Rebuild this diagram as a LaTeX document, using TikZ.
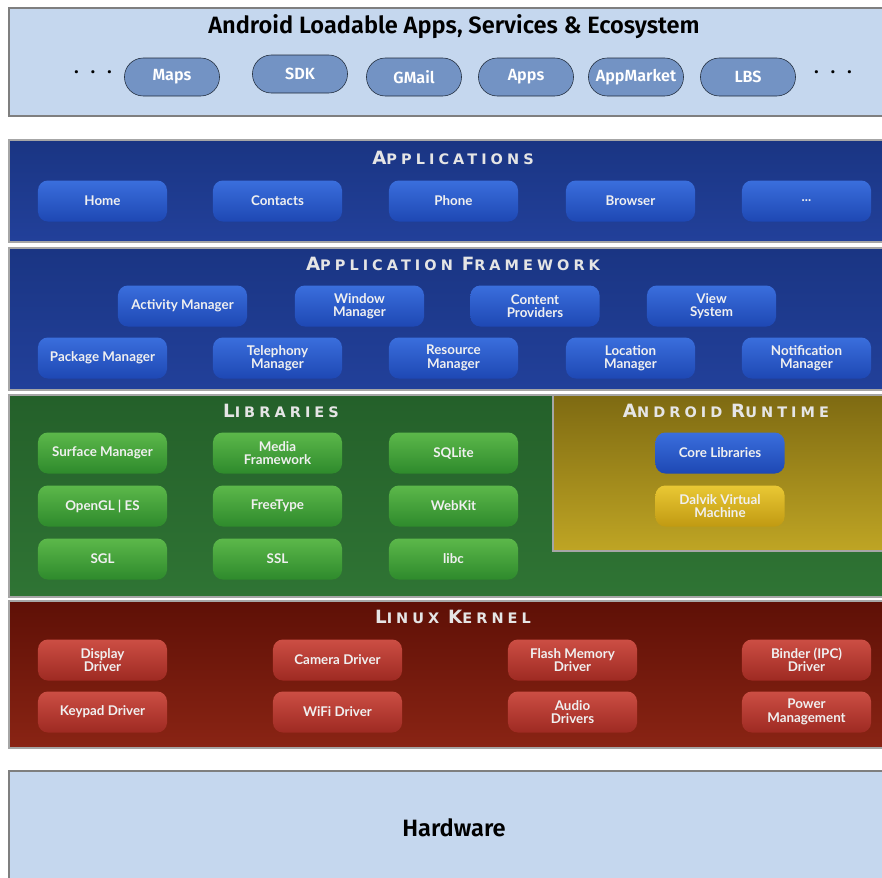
\documentclass[tikz,border=0pt]{standalone}
\usepackage{fontspec}
\setmainfont{Open Sans}
\newfontfamily\semifont{Fira Sans}[UprightFont={* SemiBold}]
\newfontfamily\btnfont{Lato}
\newfontfamily\capfont[LetterSpace=28]{DejaVu Sans}

\definecolor{ecofill}{HTML}{C5D7EE}
\definecolor{ecoline}{HTML}{7F7F7F}
\definecolor{pillfill}{HTML}{7393C4}
\definecolor{pillline}{HTML}{1F2A3A}
\definecolor{appdark}{HTML}{1A3583}
\definecolor{appmid}{HTML}{22409A}
\definecolor{btnbluetop}{HTML}{3A6EDC}
\definecolor{btnbluebot}{HTML}{1E48B4}
\definecolor{libdark}{HTML}{24602A}
\definecolor{libmid}{HTML}{2F7434}
\definecolor{btngreentop}{HTML}{5CB84A}
\definecolor{btngreenbot}{HTML}{2E8A2C}
\definecolor{rtdark}{HTML}{7E6A12}
\definecolor{rtlight}{HTML}{BFA524}
\definecolor{btnyellowtop}{HTML}{EAC834}
\definecolor{btnyellowbot}{HTML}{C09A12}
\definecolor{krndark}{HTML}{5E1006}
\definecolor{krnmid}{HTML}{8A2414}
\definecolor{btnredtop}{HTML}{CC4E44}
\definecolor{btnredbot}{HTML}{9E2A22}

\newcommand{\layertitle}[2]{{\fontsize{13}{13}\selectfont #1}{\fontsize{10.3}{11}\selectfont #2}}

\tikzset{
  panel/.style={draw=gray!70, line width=1.5pt},
  ecobox/.style={fill=ecofill, draw=ecoline, line width=1.5pt},
  pill/.style={draw=pillline, fill=pillfill, rounded corners=0.47cm, minimum width=2.375cm,
    minimum height=0.95cm, text=white, font=\semifont\fontsize{11.5}{12}\selectfont},
  btn/.style={rounded corners=7pt, minimum width=3.225cm, minimum height=1.025cm, text=white!94!black,
    align=center, inner sep=1pt, font=\btnfont\bfseries\fontsize{9.5}{9.5}\selectfont},
  bluebtn/.style={btn, top color=btnbluetop, bottom color=btnbluebot},
  greenbtn/.style={btn, top color=btngreentop, bottom color=btngreenbot},
  yellowbtn/.style={btn, top color=btnyellowtop, bottom color=btnyellowbot},
  redbtn/.style={btn, top color=btnredtop, bottom color=btnredbot},
  layer/.style={text=white!90!black, font=\capfont\bfseries},
  dots/.style={font=\bfseries\fontsize{13}{14}\selectfont},
  bigtext/.style={font=\semifont\fontsize{16.8}{17}\selectfont}
}

\begin{document}
\begin{tikzpicture}[x=0.025cm, y=-0.025cm]
    \clip (0,0) rectangle (882,877);

    % ecosystem
    \draw [ecobox] (9,8) rectangle (895,116);
    \node [bigtext] (ecotitle) at (454,27) {Android Loadable Apps, Services \& Ecosystem};
    \node [dots] (dotsl) at (93,72) {.\hspace{8pt}.\hspace{8pt}.};
    \node [pill] (maps) at (172,77) {Maps};
    \node [pill] (sdk) at (300,74) {SDK};
    \node [pill] (gmail) at (414,77) {GMail};
    \node [pill] (apps) at (526,77) {Apps};
    \node [pill] (market) at (636,77) {AppMarket};
    \node [pill] (lbs) at (748,77) {LBS};
    \node [dots] (dotsr) at (833,72) {.\hspace{8pt}.\hspace{8pt}.};

    % applications
    \shade [panel, top color=appdark, bottom color=appmid] (9,140) rectangle (895,242);
    \node [layer] (apptitle) at (453,158) {\layertitle{A}{PPLICATIONS}};
    \node [bluebtn] (home) at (102.5,201) {Home};
    \node [bluebtn] (contacts) at (277.5,201) {Contacts};
    \node [bluebtn] (phone) at (453.5,201) {Phone};
    \node [bluebtn] (browser) at (630.5,201) {Browser};
    \node [bluebtn] (more) at (806.5,201) {...};

    % framework
    \shade [panel, top color=appdark, bottom color=appmid] (9,248) rectangle (895,390);
    \node [layer] (fwtitle) at (453,264) {\layertitle{A}{PPLICATION} \layertitle{F}{RAMEWORK}};
    \node [bluebtn] (activity) at (182.5,306) {Activity Manager};
    \node [bluebtn] (window) at (359.5,306) {Window\\Manager};
    \node [bluebtn] (content) at (535,306) {Content\\Providers};
    \node [bluebtn] (view) at (711.5,306) {View\\System};
    \node [bluebtn] (package) at (102.5,358) {Package Manager};
    \node [bluebtn] (telephony) at (277.5,358) {Telephony\\Manager};
    \node [bluebtn] (resource) at (453.5,358) {Resource\\Manager};
    \node [bluebtn] (location) at (630.5,358) {Location\\Manager};
    \node [bluebtn] (notify) at (806.5,358) {Notification\\Manager};

    % libraries
    \shade [panel, top color=libdark, bottom color=libmid] (9,395) rectangle (895,597);
    \node [layer] (libtitle) at (281,411) {\layertitle{L}{IBRARIES}};
    \node [greenbtn] (surface) at (102.5,453) {Surface Manager};
    \node [greenbtn] (media) at (277.5,453) {Media\\Framework};
    \node [greenbtn] (sqlite) at (453.5,453) {SQLite};
    \node [greenbtn] (opengl) at (102.5,506) {OpenGL | ES};
    \node [greenbtn] (freetype) at (277.5,506) {FreeType};
    \node [greenbtn] (webkit) at (453.5,506) {WebKit};
    \node [greenbtn] (sgl) at (102.5,559) {SGL};
    \node [greenbtn] (ssl) at (277.5,559) {SSL};
    \node [greenbtn] (libc) at (453.5,559) {libc};

    % runtime
    \shade [panel, top color=rtdark, bottom color=rtlight] (553,395) rectangle (895,551);
    \node [layer] (rttitle) at (726,411) {\layertitle{A}{NDROID} \layertitle{R}{UNTIME}};
    \node [bluebtn] (core) at (720,453) {Core Libraries};
    \node [yellowbtn] (dalvik) at (720,506) {Dalvik Virtual\\Machine};

    % kernel
    \shade [panel, top color=krndark, bottom color=krnmid] (9,601) rectangle (895,748);
    \node [layer] (krntitle) at (453,617) {\layertitle{L}{INUX} \layertitle{K}{ERNEL}};
    \node [redbtn] (display) at (102.5,660) {Display\\Driver};
    \node [redbtn] (camera) at (337.5,660) {Camera Driver};
    \node [redbtn] (flash) at (572.5,660) {Flash Memory\\Driver};
    \node [redbtn] (binder) at (806.5,660) {Binder (IPC)\\Driver};
    \node [redbtn] (keypad) at (102.5,712) {Keypad Driver};
    \node [redbtn] (wifi) at (337.5,712) {WiFi Driver};
    \node [redbtn] (audio) at (572.5,712) {Audio\\Drivers};
    \node [redbtn] (power) at (806.5,712) {Power\\Management};

    % hardware
    \draw [ecobox] (9,771) rectangle (895,895);
    \node [bigtext] (hw) at (454,828) {Hardware};
\end{tikzpicture}
\end{document}
